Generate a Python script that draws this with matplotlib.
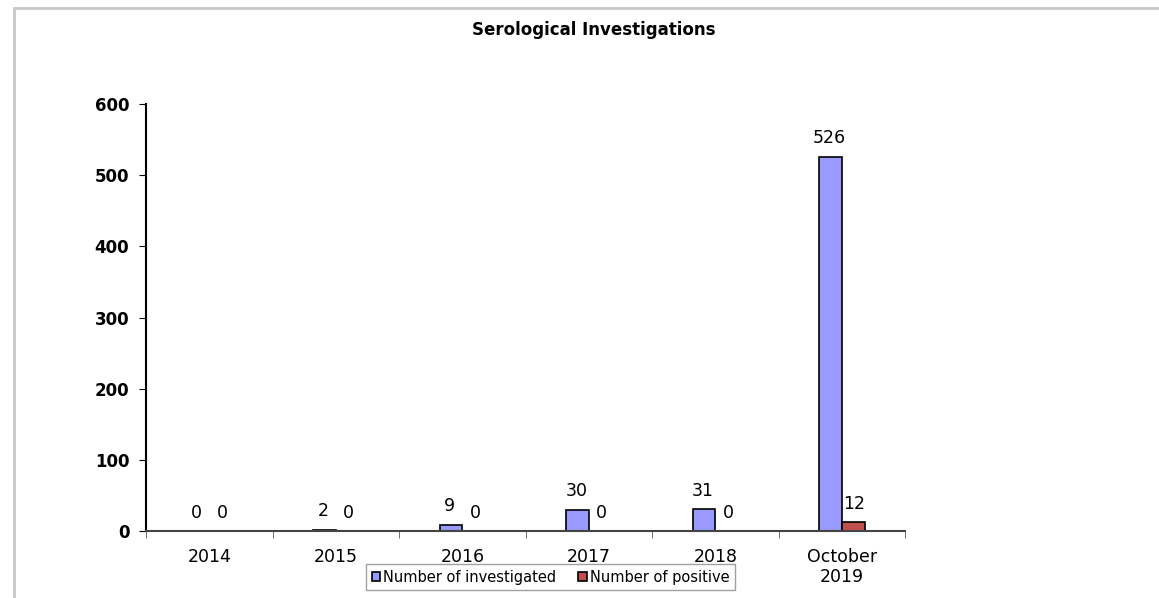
import matplotlib.pyplot as plt
import numpy as np
from matplotlib.patches import Rectangle

# data
years = ['2014', '2015', '2016', '2017', '2018', 'October\n2019']
investigated = [0, 2, 9, 30, 31, 526]
positive = [0, 0, 0, 0, 0, 12]

fig = plt.figure(figsize=(11.59, 5.98), dpi=100)
ax = fig.add_axes([0.126, 0.112, 0.655, 0.714])

x = np.arange(len(years))
w = 0.18
b1 = ax.bar(x - w / 2, investigated, w, color='#9999FF', edgecolor='black',
            linewidth=1.2, label='Number of investigated')
b2 = ax.bar(x + w / 2, positive, w, color='#C0504D', edgecolor='black',
            linewidth=1.2, label='Number of positive')

for rect, v in zip(b1, investigated):
    ax.text(rect.get_x() + rect.get_width() / 2 - 0.01, v + 13, str(v),
            ha='center', va='bottom', fontsize=12.5)
for rect, v in zip(b2, positive):
    ax.text(rect.get_x() + rect.get_width() / 2 + 0.01, v + 13, str(v),
            ha='center', va='bottom', fontsize=12.5)

ax.set_xlim(-0.5, len(years) - 0.5)
ax.set_ylim(0, 600)
ax.set_yticks(range(0, 601, 100))
ax.set_xticks(x)
ax.set_xticklabels(years, fontsize=12.5)
ax.tick_params(axis='x', which='major', length=0, pad=12)
ax.set_xticks(np.arange(-0.5, len(years)), minor=True)
ax.tick_params(axis='x', which='minor', length=5, direction='out', color='#555555')
ax.tick_params(axis='y', labelsize=12, length=5, direction='out', pad=7)
for lbl in ax.get_yticklabels():
    lbl.set_fontweight('bold')

ax.spines['top'].set_visible(False)
ax.spines['right'].set_visible(False)
ax.spines['left'].set_linewidth(1.5)
ax.spines['bottom'].set_linewidth(1.5)
ax.spines['bottom'].set_color('#444444')

fig.text(0.512, 0.95, 'Serological Investigations', ha='center', va='center',
         fontsize=12, fontweight='bold')

leg = fig.legend(loc='center', bbox_to_anchor=(0.475, 0.035), ncol=2,
                 fontsize=10.5, frameon=True, fancybox=False, edgecolor='#888888',
                 handlelength=0.6, handleheight=0.6, handletextpad=0.2,
                 columnspacing=1.5, borderpad=0.4)

# outer chart border
fig.patches.append(Rectangle((14 / 1159, -0.1), 1.2, 1 - 8 / 598 + 0.1,
                             transform=fig.transFigure, fill=False,
                             edgecolor='#c8c8c8', linewidth=2))

fig.savefig('out.png', dpi=100)
